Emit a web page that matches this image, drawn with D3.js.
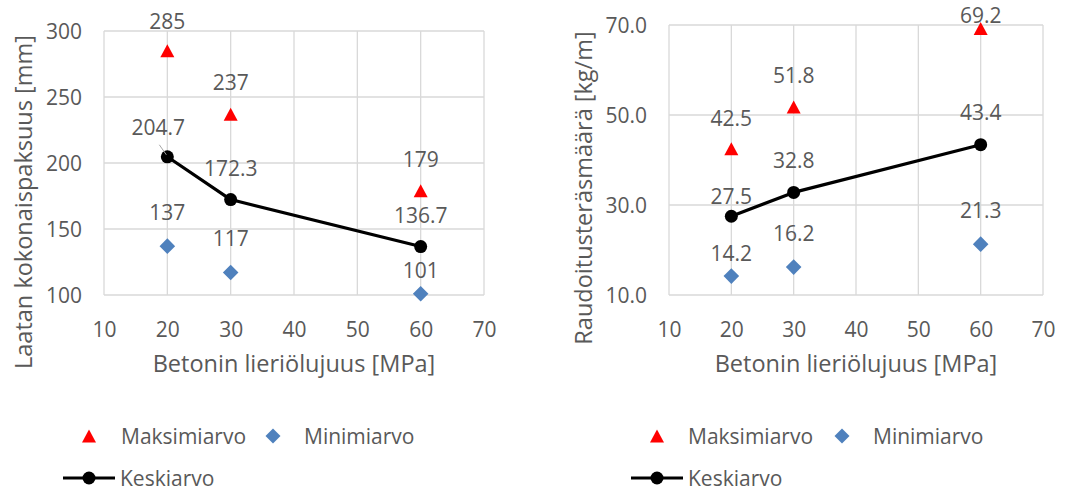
<!DOCTYPE html>
<html>
<head>
<meta charset="utf-8">
<script src="https://cdn.jsdelivr.net/npm/d3@7"></script>
<style>
  html, body { margin: 0; padding: 0; background: #fff; }
  svg { display: block; }
  text { font-family: "Open Sans", "Liberation Sans", sans-serif; fill: #595959; }
</style>
</head>
<body>
<svg id="chart" width="1076" height="492"></svg>
<script>
// Concrete cylinder strength (MPa) for each design case
const strengths = [20, 30, 60];

// Slab total thickness [mm]
const thicknessMax = [285, 237, 179];
const thicknessMin = [137, 117, 101];
const thicknessMean = [204.7, 172.3, 136.7];

// Reinforcement steel amount [kg/m]
const steelMax = [42.5, 51.8, 69.2];
const steelMin = [14.2, 16.2, 21.3];
const steelMean = [27.5, 32.8, 43.4];

// Axis ticks
const xTicks = [10, 20, 30, 40, 50, 60, 70];
const thicknessTicks = [100, 150, 200, 250, 300];
const steelTicks = [10, 30, 50, 70];

const seriesNames = ["Maksimiarvo", "Minimiarvo", "Keskiarvo"];
const xTitle = "Betonin lieriölujuus [MPa]";

const RED = "#FF0000", BLUE = "#4F81BD", BLACK = "#000000", GRID = "#D9D9D9";
const TICK_FS = 21, LABEL_FS = 21, LEGEND_FS = 21, TITLE_FS = 23.5;

const panels = [
  {
    box: { left: 104, right: 484, top: 31, bottom: 295 },
    xDomain: [10, 70], yDomain: [100, 300], yTicks: thicknessTicks,
    yTickFmt: d3.format("d"),
    yTitle: "Laatan kokonaispaksuus [mm]", yTitlePos: [23, 202],
    series: { max: thicknessMax, min: thicknessMin, mean: thicknessMean },
    labelFmt: { max: d3.format("d"), min: d3.format("d"), mean: d3.format(".1f") },
    // label placement relative to its marker: [dx, dy]
    labelOffsets: {
      max: [[0, -30], [0, -32], [0, -32]],
      min: [[0, -34], [0, -35], [0, -24]],
      mean: [[-9, -30], [0, -31.5], [0, -31.6]]
    },
    leader: { series: "mean", index: 0 },
    legend: { tri: 89, triLabel: 121, dia: 273, diaLabel: 304, lineFrom: 63, lineTo: 115, circ: 89, lineLabel: 120 }
  },
  {
    box: { left: 669, right: 1043, top: 25, bottom: 295 },
    xDomain: [10, 70], yDomain: [10, 70], yTicks: steelTicks,
    yTickFmt: d3.format(".1f"),
    yTitle: "Raudoitusteräsmäärä [kg/m]", yTitlePos: [583, 188],
    series: { max: steelMax, min: steelMin, mean: steelMean },
    labelFmt: { max: d3.format(".1f"), min: d3.format(".1f"), mean: d3.format(".1f") },
    labelOffsets: {
      max: [[0, -30.7], [0, -32], [0, -13.6]],
      min: [[0, -23], [0, -34], [0, -34]],
      mean: [[0, -20.5], [0, -32], [0, -33]]
    },
    leader: null,
    legend: { tri: 657, triLabel: 688, dia: 842, diaLabel: 873, lineFrom: 631, lineTo: 683, circ: 657, lineLabel: 688 }
  }
];

const svg = d3.select("#chart");

const triPath = (w, h) => `M0,${-h}L${w},${h}L${-w},${h}Z`;
const diaPath = r => `M0,${-r}L${r},0L0,${r}L${-r},0Z`;

panels.forEach(p => {
  const g = svg.append("g");
  const x = d3.scaleLinear().domain(p.xDomain).range([p.box.left, p.box.right]);
  const y = d3.scaleLinear().domain(p.yDomain).range([p.box.bottom, p.box.top]);

  // Gridlines
  g.append("g").selectAll("line.v").data(xTicks).join("line")
    .attr("x1", d => x(d)).attr("x2", d => x(d))
    .attr("y1", p.box.top).attr("y2", p.box.bottom)
    .attr("stroke", GRID).attr("stroke-width", 1.3);
  g.append("g").selectAll("line.h").data(p.yTicks).join("line")
    .attr("y1", d => y(d)).attr("y2", d => y(d))
    .attr("x1", p.box.left).attr("x2", p.box.right)
    .attr("stroke", GRID).attr("stroke-width", 1.3);

  // Axes (text only; lines are the gridlines)
  const xAxis = g.append("g").attr("transform", `translate(0,${p.box.bottom})`)
    .call(d3.axisBottom(x).tickValues(xTicks).tickSize(0).tickPadding(23).tickFormat(d3.format("d")));
  const yAxis = g.append("g").attr("transform", `translate(${p.box.left},0)`)
    .call(d3.axisLeft(y).tickValues(p.yTicks).tickSize(0).tickPadding(22).tickFormat(p.yTickFmt));
  [xAxis, yAxis].forEach(a => {
    a.select(".domain").remove();
    a.attr("font-size", TICK_FS).attr("font-family", null);
    a.selectAll("text").attr("font-size", TICK_FS).attr("fill", "#595959");
  });
  xAxis.selectAll("text").attr("dy", "0.5em").attr("y", 31);
  yAxis.selectAll("text").attr("dy", "0.36em");

  // Axis titles
  g.append("text")
    .attr("x", (p.box.left + p.box.right) / 2).attr("y", 372)
    .attr("text-anchor", "middle").attr("font-size", TITLE_FS).text(xTitle);
  g.append("text")
    .attr("transform", `translate(${p.yTitlePos[0]},${p.yTitlePos[1]}) rotate(-90)`)
    .attr("text-anchor", "middle").attr("dominant-baseline", "central")
    .attr("font-size", TITLE_FS).text(p.yTitle);

  // Mean line
  const meanPts = strengths.map((s, i) => [x(s), y(p.series.mean[i])]);
  g.append("path").attr("d", d3.line()(meanPts))
    .attr("fill", "none").attr("stroke", BLACK).attr("stroke-width", 3.2)
    .attr("stroke-linejoin", "round");

  // Markers
  g.append("g").selectAll("path").data(strengths).join("path")
    .attr("transform", (s, i) => `translate(${x(s)},${y(p.series.max[i])})`)
    .attr("d", triPath(7, 6.5)).attr("fill", RED);
  g.append("g").selectAll("path").data(strengths).join("path")
    .attr("transform", (s, i) => `translate(${x(s)},${y(p.series.min[i])})`)
    .attr("d", diaPath(7.8)).attr("fill", BLUE);
  g.append("g").selectAll("circle").data(strengths).join("circle")
    .attr("cx", s => x(s)).attr("cy", (s, i) => y(p.series.mean[i]))
    .attr("r", 6.5).attr("fill", BLACK);

  // Data labels
  ["max", "min", "mean"].forEach(key => {
    g.append("g").selectAll("text").data(strengths).join("text")
      .attr("x", (s, i) => x(s) + p.labelOffsets[key][i][0])
      .attr("y", (s, i) => y(p.series[key][i]) + p.labelOffsets[key][i][1])
      .attr("text-anchor", "middle").attr("dominant-baseline", "central")
      .attr("font-size", LABEL_FS).attr("fill", "#404040")
      .text((s, i) => p.labelFmt[key](p.series[key][i]));
  });

  // Leader line from a displaced label to its point
  if (p.leader) {
    const i = p.leader.index;
    const px = x(strengths[i]), py = y(p.series[p.leader.series][i]);
    g.append("line")
      .attr("x1", px - 8).attr("y1", py - 12).attr("x2", px - 1).attr("y2", py - 2)
      .attr("stroke", "#A6A6A6").attr("stroke-width", 1);
  }

  // Legend
  const L = p.legend, ly1 = 436, ly2 = 478;
  g.append("path").attr("transform", `translate(${L.tri},${ly1})`).attr("d", triPath(7, 6.5)).attr("fill", RED);
  g.append("text").attr("x", L.triLabel).attr("y", ly1).attr("dominant-baseline", "central")
    .attr("font-size", LEGEND_FS).text(seriesNames[0]);
  g.append("path").attr("transform", `translate(${L.dia},${ly1})`).attr("d", diaPath(7.5)).attr("fill", BLUE);
  g.append("text").attr("x", L.diaLabel).attr("y", ly1).attr("dominant-baseline", "central")
    .attr("font-size", LEGEND_FS).text(seriesNames[1]);
  g.append("line").attr("x1", L.lineFrom).attr("x2", L.lineTo).attr("y1", ly2).attr("y2", ly2)
    .attr("stroke", BLACK).attr("stroke-width", 3.2);
  g.append("circle").attr("cx", L.circ).attr("cy", ly2).attr("r", 6.5).attr("fill", BLACK);
  g.append("text").attr("x", L.lineLabel).attr("y", ly2).attr("dominant-baseline", "central")
    .attr("font-size", LEGEND_FS).text(seriesNames[2]);
});
</script>
</body>
</html>
